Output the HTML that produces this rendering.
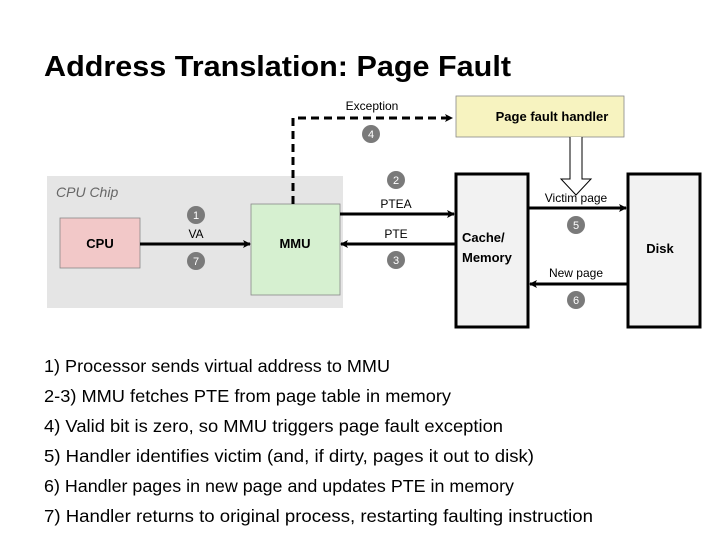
<!DOCTYPE html>
<html><head><style>
body{margin:0;width:720px;height:540px;background:#fff;overflow:hidden;font-family:"Liberation Sans",sans-serif}
</style></head><body>
<svg width="720" height="540" xmlns="http://www.w3.org/2000/svg" font-family="Liberation Sans, sans-serif">
<defs>
<marker id="a" markerWidth="8" markerHeight="8" refX="7" refY="4" orient="auto" markerUnits="userSpaceOnUse"><path d="M0,0 L8,4 L0,8 L2,4 z" fill="#000"/></marker>
</defs>
<text x="44" y="76" font-size="29" font-weight="bold" fill="#000" textLength="467" lengthAdjust="spacingAndGlyphs">Address Translation: Page Fault</text>
<rect x="47" y="176" width="296" height="132" fill="#e5e5e5"/>
<text x="56" y="197" font-size="14" font-style="italic" fill="#666">CPU Chip</text>
<rect x="60" y="218" width="80" height="50" fill="#f2c8c8" stroke="#888" stroke-width="0.8"/>
<text x="100" y="248" font-size="13" text-anchor="middle" font-weight="bold">CPU</text>
<rect x="251" y="204" width="89" height="91" fill="#d6f0d0" stroke="#888" stroke-width="0.8"/>
<text x="295" y="248" font-size="13" text-anchor="middle" font-weight="bold">MMU</text>
<rect x="456" y="96" width="168" height="41" fill="#f7f3c0" stroke="#888" stroke-width="0.8"/>
<text x="552" y="121" font-size="13" text-anchor="middle" font-weight="bold">Page fault handler</text>
<rect x="456" y="174" width="72" height="153" fill="#f2f2f2" stroke="#000" stroke-width="3"/>
<text x="462" y="242" font-size="13" font-weight="bold">Cache/</text>
<text x="462" y="262" font-size="13" font-weight="bold">Memory</text>
<rect x="628" y="174" width="72" height="153" fill="#f2f2f2" stroke="#000" stroke-width="3"/>
<text x="660" y="253" font-size="13" text-anchor="middle" font-weight="bold">Disk</text>
<path d="M293,204 V118 H452" fill="none" stroke="#000" stroke-width="3" stroke-dasharray="8,5" marker-end="url(#a)"/>
<text x="372" y="110" font-size="12" text-anchor="middle">Exception</text>
<line x1="140" y1="244" x2="250" y2="244" stroke="#000" stroke-width="3" marker-end="url(#a)"/>
<text x="196" y="238" font-size="12" text-anchor="middle">VA</text>
<line x1="340" y1="214" x2="454" y2="214" stroke="#000" stroke-width="3" marker-end="url(#a)"/>
<text x="396" y="208" font-size="12" text-anchor="middle">PTEA</text>
<line x1="455" y1="244" x2="341" y2="244" stroke="#000" stroke-width="3" marker-end="url(#a)"/>
<text x="396" y="238" font-size="12" text-anchor="middle">PTE</text>
<line x1="528" y1="208" x2="626" y2="208" stroke="#000" stroke-width="3" marker-end="url(#a)"/>
<text x="576" y="202" font-size="12" text-anchor="middle">Victim page</text>
<line x1="627" y1="284" x2="530" y2="284" stroke="#000" stroke-width="3" marker-end="url(#a)"/>
<text x="576" y="277" font-size="12" text-anchor="middle">New page</text>
<path d="M570,137 V179 H561 L576,195 L591,179 H582 V137" fill="#fff" stroke="#000" stroke-width="1"/>
<g fill="#7a7a7a"><circle cx="196" cy="215" r="9"/><circle cx="196" cy="261" r="9"/><circle cx="371" cy="134" r="9"/><circle cx="396" cy="180" r="9"/><circle cx="396" cy="260" r="9"/><circle cx="576" cy="225" r="9"/><circle cx="576" cy="300" r="9"/></g>
<g fill="#fff" font-size="11" text-anchor="middle"><text x="196" y="219">1</text><text x="196" y="265">7</text><text x="371" y="138">4</text><text x="396" y="184">2</text><text x="396" y="264">3</text><text x="576" y="229">5</text><text x="576" y="304">6</text></g>
<g font-size="17.5" fill="#000" lengthAdjust="spacingAndGlyphs">
<text x="44" y="372" textLength="346" lengthAdjust="spacingAndGlyphs">1) Processor sends virtual address to MMU</text>
<text x="44" y="402" textLength="407" lengthAdjust="spacingAndGlyphs">2-3) MMU fetches PTE from page table in memory</text>
<text x="44" y="432" textLength="459" lengthAdjust="spacingAndGlyphs">4) Valid bit is zero, so MMU triggers page fault exception</text>
<text x="44" y="462" textLength="490" lengthAdjust="spacingAndGlyphs">5) Handler identifies victim (and, if dirty, pages it out to disk)</text>
<text x="44" y="492" textLength="470" lengthAdjust="spacingAndGlyphs">6) Handler pages in new page and updates PTE in memory</text>
<text x="44" y="522" textLength="549" lengthAdjust="spacingAndGlyphs">7) Handler returns to original process, restarting faulting instruction</text>
</g>
</svg>
</body></html>
